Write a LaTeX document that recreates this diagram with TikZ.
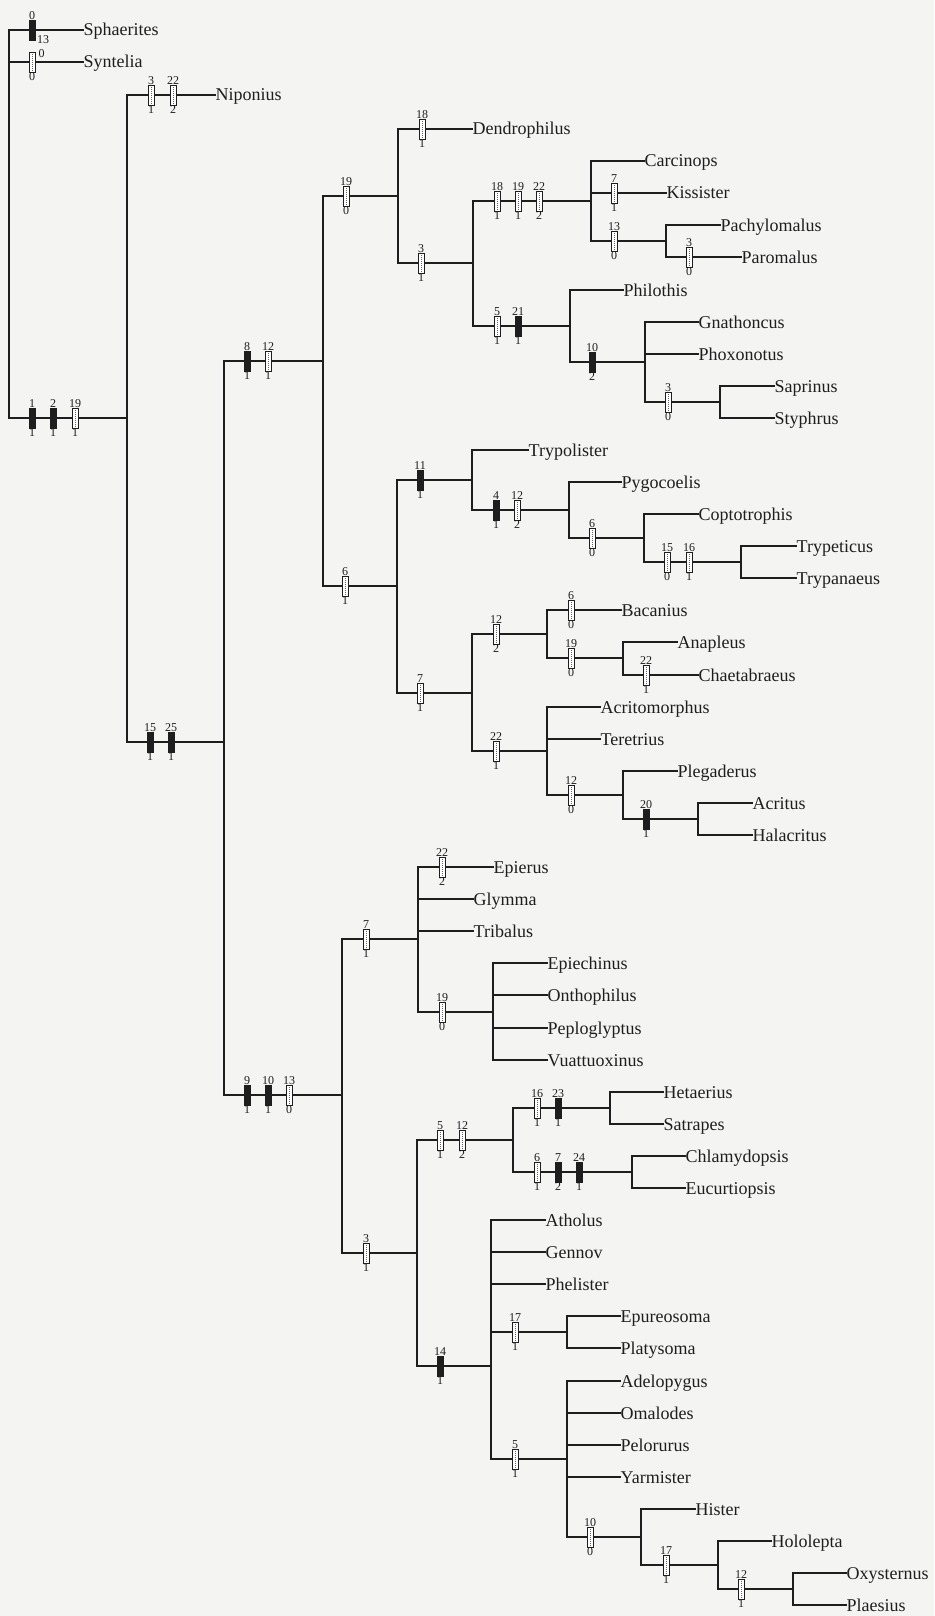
\documentclass[tikz,border=0pt]{standalone}
\usepackage{fontspec}
\setmainfont{Liberation Serif}
\definecolor{ink}{RGB}{30,30,30}
\definecolor{bgc}{RGB}{244,244,242}
\newcommand\mk[5]{\node[#2,label={[lab,name=#1a]above:#4},label={[lab,name=#1b]below:#5}] (#1) at (#3) {};}
\begin{document}
\begin{tikzpicture}[x=1pt,y=-1pt,
 br/.style={line width=2pt, draw=ink, line cap=rect},
 tax/.style={anchor=west, inner sep=0pt, inner xsep=0.5pt, text height=12pt, text depth=0pt, font=\fontsize{18}{20}\selectfont, text=ink},
 mkbase/.style={minimum width=6pt, minimum height=20pt, inner sep=0pt, line width=0.8pt, label distance=2.5pt},
 hm/.style={mkbase, draw=ink, fill=white, path picture={\draw[ink!70, line width=1pt, densely dotted] (path picture bounding box.north) -- (path picture bounding box.south);}},
 bm/.style={mkbase, draw=ink, fill=ink},
 lab/.style={inner sep=0pt, font=\fontsize{12}{12}\selectfont, text=ink}]
\fill[bgc] (0,0) rectangle (934,1616);
\useasboundingbox (0,0) rectangle (934,1616);
% internal nodes
\coordinate (root) at (9,418);
\coordinate (NNip) at (127,418);
\coordinate (N1525) at (224,742);
\coordinate (N812) at (323,361);
\coordinate (N19) at (398,196);
\coordinate (N3a) at (473,263);
\coordinate (NCarc) at (591,201);
\coordinate (NPP) at (666,241);
\coordinate (NPhil) at (570,326);
\coordinate (NGn) at (645,362);
\coordinate (NSS) at (720,402);
\coordinate (N6) at (397,586);
\coordinate (NTryp) at (472,480);
\coordinate (NPyg) at (569,510);
\coordinate (NCop) at (644,538);
\coordinate (NTT) at (741,562);
\coordinate (N7a) at (472,693);
\coordinate (NBac) at (547,634);
\coordinate (NAC) at (623,658);
\coordinate (NAcm) at (547,751);
\coordinate (NPleg) at (623,795);
\coordinate (NAH) at (698,819);
\coordinate (N91013) at (342,1095);
\coordinate (N7b) at (418,939);
\coordinate (NEpi) at (493,1012);
\coordinate (N3b) at (417,1253);
\coordinate (N512) at (513,1140);
\coordinate (NHS) at (610,1108);
\coordinate (NCE) at (632,1172);
\coordinate (N14) at (491,1366);
\coordinate (NEP) at (567,1332);
\coordinate (N5b) at (567,1459);
\coordinate (NHist) at (641,1537);
\coordinate (NHolo) at (718,1565);
\coordinate (NOP) at (793,1589);
% taxa
\node[tax] (Sphaerites) at (83,30) {Sphaerites};
\node[tax] (Syntelia) at (83,62) {Syntelia};
\node[tax] (Niponius) at (215,95) {Niponius};
\node[tax] (Dendrophilus) at (472,129) {Dendrophilus};
\node[tax] (Carcinops) at (644,161) {Carcinops};
\node[tax] (Kissister) at (666,193) {Kissister};
\node[tax] (Pachylomalus) at (720,225) {Pachylomalus};
\node[tax] (Paromalus) at (741,257) {Paromalus};
\node[tax] (Philothis) at (623,290) {Philothis};
\node[tax] (Gnathoncus) at (698,322) {Gnathoncus};
\node[tax] (Phoxonotus) at (698,354) {Phoxonotus};
\node[tax] (Saprinus) at (774,386) {Saprinus};
\node[tax] (Styphrus) at (774,418) {Styphrus};
\node[tax] (Trypolister) at (528,450) {Trypolister};
\node[tax] (Pygocoelis) at (621,482) {Pygocoelis};
\node[tax] (Coptotrophis) at (698,514) {Coptotrophis};
\node[tax] (Trypeticus) at (796,546) {Trypeticus};
\node[tax] (Trypanaeus) at (796,578) {Trypanaeus};
\node[tax] (Bacanius) at (621,610) {Bacanius};
\node[tax] (Anapleus) at (677,642) {Anapleus};
\node[tax] (Chaetabraeus) at (698,675) {Chaetabraeus};
\node[tax] (Acritomorphus) at (600,707) {Acritomorphus};
\node[tax] (Teretrius) at (600,739) {Teretrius};
\node[tax] (Plegaderus) at (677,771) {Plegaderus};
\node[tax] (Acritus) at (752,803) {Acritus};
\node[tax] (Halacritus) at (752,835) {Halacritus};
\node[tax] (Epierus) at (493,867) {Epierus};
\node[tax] (Glymma) at (473,899) {Glymma};
\node[tax] (Tribalus) at (473,931) {Tribalus};
\node[tax] (Epiechinus) at (547,963) {Epiechinus};
\node[tax] (Onthophilus) at (547,995) {Onthophilus};
\node[tax] (Peploglyptus) at (547,1028) {Peploglyptus};
\node[tax] (Vuattuoxinus) at (547,1060) {Vuattuoxinus};
\node[tax] (Hetaerius) at (663,1092) {Hetaerius};
\node[tax] (Satrapes) at (663,1124) {Satrapes};
\node[tax] (Chlamydopsis) at (685,1156) {Chlamydopsis};
\node[tax] (Eucurtiopsis) at (685,1188) {Eucurtiopsis};
\node[tax] (Atholus) at (545,1220) {Atholus};
\node[tax] (Gennov) at (545,1252) {Gennov};
\node[tax] (Phelister) at (545,1284) {Phelister};
\node[tax] (Epureosoma) at (620,1316) {Epureosoma};
\node[tax] (Platysoma) at (620,1348) {Platysoma};
\node[tax] (Adelopygus) at (620,1381) {Adelopygus};
\node[tax] (Omalodes) at (620,1413) {Omalodes};
\node[tax] (Pelorurus) at (620,1445) {Pelorurus};
\node[tax] (Yarmister) at (620,1477) {Yarmister};
\node[tax] (Hister) at (695,1509) {Hister};
\node[tax] (Hololepta) at (771,1541) {Hololepta};
\node[tax] (Oxysternus) at (846,1573) {Oxysternus};
\node[tax] (Plaesius) at (846,1605) {Plaesius};
% branches
\foreach \p/\c in {root/Sphaerites, root/Syntelia, root/NNip,
 NNip/Niponius, NNip/N1525, N1525/N812, N1525/N91013,
 N812/N19, N812/N6, N19/Dendrophilus, N19/N3a, N3a/NCarc, N3a/NPhil,
 NCarc/Carcinops, NCarc/Kissister, NCarc/NPP, NPP/Pachylomalus, NPP/Paromalus,
 NPhil/Philothis, NPhil/NGn, NGn/Gnathoncus, NGn/Phoxonotus, NGn/NSS,
 NSS/Saprinus, NSS/Styphrus,
 N6/NTryp, N6/N7a, NTryp/Trypolister, NTryp/NPyg, NPyg/Pygocoelis, NPyg/NCop,
 NCop/Coptotrophis, NCop/NTT, NTT/Trypeticus, NTT/Trypanaeus,
 N7a/NBac, N7a/NAcm, NBac/Bacanius, NBac/NAC, NAC/Anapleus, NAC/Chaetabraeus,
 NAcm/Acritomorphus, NAcm/Teretrius, NAcm/NPleg, NPleg/Plegaderus, NPleg/NAH,
 NAH/Acritus, NAH/Halacritus,
 N91013/N7b, N91013/N3b, N7b/Epierus, N7b/Glymma, N7b/Tribalus, N7b/NEpi,
 NEpi/Epiechinus, NEpi/Onthophilus, NEpi/Peploglyptus, NEpi/Vuattuoxinus,
 N3b/N512, N3b/N14, N512/NHS, N512/NCE, NHS/Hetaerius, NHS/Satrapes,
 NCE/Chlamydopsis, NCE/Eucurtiopsis,
 N14/Atholus, N14/Gennov, N14/Phelister, N14/NEP, N14/N5b,
 NEP/Epureosoma, NEP/Platysoma,
 N5b/Adelopygus, N5b/Omalodes, N5b/Pelorurus, N5b/Yarmister, N5b/NHist,
 NHist/Hister, NHist/NHolo, NHolo/Hololepta, NHolo/NOP,
 NOP/Oxysternus, NOP/Plaesius}
 \draw[br] (\p) |- (\c);
% character marks
\node[bm, label={[lab,name=mSpha]above:0}] (mSph) at (32,30) {};
\node[lab] (mSphb) at (43,40) {13};
\node[hm, label={[lab,name=mSyna]below:0}] (mSyn) at (32,62) {};
\node[lab] (mSynb) at (41.5,53.5) {0};
\mk{m01}{bm}{32,418}{1}{1}
\mk{m02}{bm}{53,418}{2}{1}
\mk{m03}{hm}{75,418}{19}{1}
\mk{m04}{hm}{151,95}{3}{1}
\mk{m05}{hm}{173,95}{22}{2}
\mk{m06}{bm}{150,742}{15}{1}
\mk{m07}{bm}{171,742}{25}{1}
\mk{m08}{bm}{247,361}{8}{1}
\mk{m09}{hm}{268,361}{12}{1}
\mk{m10}{bm}{247,1095}{9}{1}
\mk{m11}{bm}{268,1095}{10}{1}
\mk{m12}{hm}{289,1095}{13}{0}
\mk{m13}{hm}{346,196}{19}{0}
\mk{m14}{hm}{422,129}{18}{1}
\mk{m15}{hm}{421,263}{3}{1}
\mk{m16}{hm}{497,201}{18}{1}
\mk{m17}{hm}{518,201}{19}{1}
\mk{m18}{hm}{539,201}{22}{2}
\mk{m19}{hm}{614,193}{7}{1}
\mk{m20}{hm}{614,241}{13}{0}
\mk{m21}{hm}{689,257}{3}{0}
\mk{m22}{hm}{497,326}{5}{1}
\mk{m23}{bm}{518,326}{21}{1}
\mk{m24}{bm}{592,362}{10}{2}
\mk{m25}{hm}{668,402}{3}{0}
\mk{m26}{hm}{345,586}{6}{1}
\mk{m27}{bm}{420,480}{11}{1}
\mk{m28}{bm}{496,510}{4}{1}
\mk{m29}{hm}{517,510}{12}{2}
\mk{m30}{hm}{592,538}{6}{0}
\mk{m31}{hm}{667,562}{15}{0}
\mk{m32}{hm}{689,562}{16}{1}
\mk{m33}{hm}{420,693}{7}{1}
\mk{m34}{hm}{496,634}{12}{2}
\mk{m35}{hm}{571,610}{6}{0}
\mk{m36}{hm}{571,658}{19}{0}
\mk{m37}{hm}{646,675}{22}{1}
\mk{m38}{hm}{496,751}{22}{1}
\mk{m39}{hm}{571,795}{12}{0}
\mk{m40}{bm}{646,819}{20}{1}
\mk{m41}{hm}{366,939}{7}{1}
\mk{m42}{hm}{442,867}{22}{2}
\mk{m43}{hm}{442,1012}{19}{0}
\mk{m44}{hm}{366,1253}{3}{1}
\mk{m45}{hm}{440,1140}{5}{1}
\mk{m46}{hm}{462,1140}{12}{2}
\mk{m47}{hm}{537,1108}{16}{1}
\mk{m48}{bm}{558,1108}{23}{1}
\mk{m49}{hm}{537,1172}{6}{1}
\mk{m50}{bm}{558,1172}{7}{2}
\mk{m51}{bm}{579,1172}{24}{1}
\mk{m52}{bm}{440,1366}{14}{1}
\mk{m53}{hm}{515,1332}{17}{1}
\mk{m54}{hm}{515,1459}{5}{1}
\mk{m55}{hm}{590,1537}{10}{0}
\mk{m56}{hm}{666,1565}{17}{1}
\mk{m57}{hm}{741,1589}{12}{1}
\end{tikzpicture}
\end{document}
